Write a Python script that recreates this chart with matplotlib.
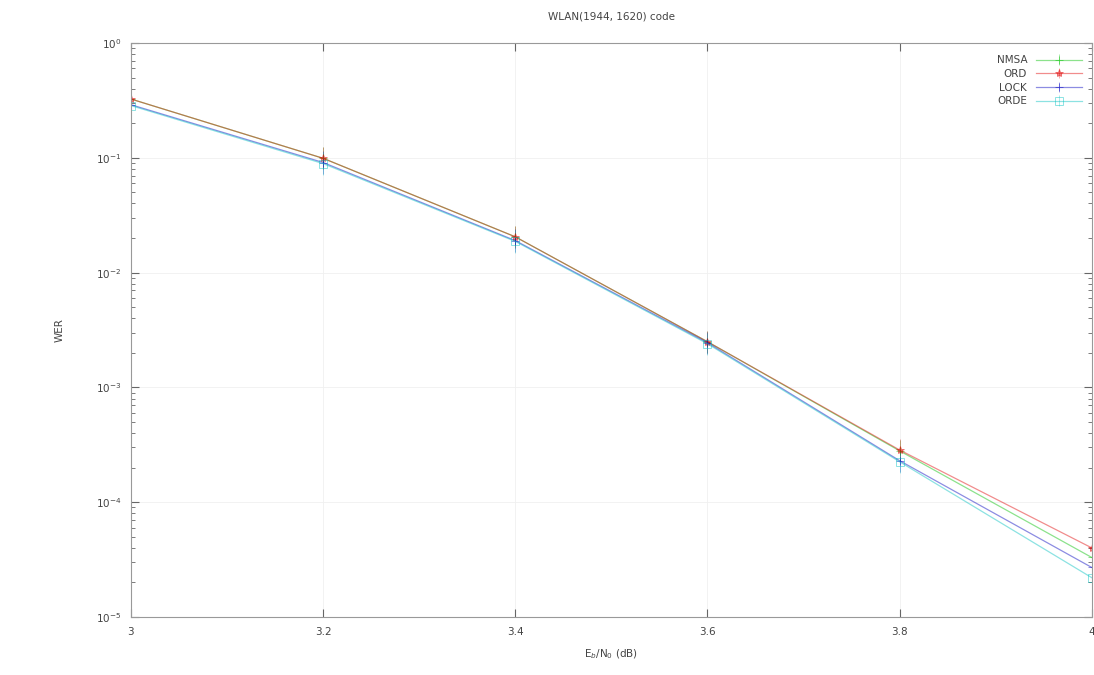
import numpy as np
import matplotlib.pyplot as plt
from matplotlib.ticker import LogLocator, NullFormatter

snr = [3.0, 3.2, 3.4, 3.6, 3.8, 4.0]
nmsa = [0.325, 0.099, 0.0205, 0.0025, 2.8e-4, 3.3e-5]
ord_ = [0.325, 0.099, 0.0205, 0.0025, 2.85e-4, 4.0e-5]
lock = [0.29, 0.091, 0.019, 0.00245, 2.3e-4, 2.7e-5]
orde = [0.285, 0.089, 0.0187, 0.0024, 2.25e-4, 2.2e-5]
names = ["NMSA", "ORD", "LOCK", "ORDE"]
colors = ["#00c000", "#e00000", "#0000c0", "#00c0c0"]
markers = ["+", "*", "+", "s"]

fig = plt.figure(figsize=(10.94, 6.75), dpi=100)
ax = fig.add_axes([0.1197, 0.0859, 0.8783, 0.8504])

for name, y, c, m in zip(names, [nmsa, ord_, lock, orde], colors, markers):
    y = np.array(y)
    ax.errorbar(snr, y, yerr=[y * 0.2, y * 0.25], color=c, marker=m, ms=6,
                mfc="none" if m == "s" else c, lw=0.9, elinewidth=0.5,
                mew=0.7, alpha=0.45, label=name)

ax.set_yscale("log")
ax.set_xlim(3, 4)
ax.set_ylim(1e-5, 1)
ax.set_xticks([3, 3.2, 3.4, 3.6, 3.8, 4])
ax.set_xticklabels(["3", "3.2", "3.4", "3.6", "3.8", "4"])
ax.yaxis.set_major_locator(LogLocator(base=10, numticks=10))
ax.yaxis.set_minor_locator(LogLocator(base=10, subs=np.arange(2, 10), numticks=20))
ax.yaxis.set_minor_formatter(NullFormatter())
ax.tick_params(which="both", direction="in", top=True, right=True,
               labelsize=7.5, colors="#666666", labelcolor="#444444")
ax.tick_params(which="major", length=6, pad=7)
ax.tick_params(which="minor", length=3)
for s in ax.spines.values():
    s.set_color("#999999")
ax.grid(True, which="major", color="#f0f0f0", lw=0.6)

ax.set_title("WLAN(1944, 1620) code", fontsize=7.5, color="#444444", pad=17)
ax.set_xlabel(r"E$_b$/N$_0$ (dB)", fontsize=7.5, color="#444444", labelpad=8)
ax.set_ylabel("WER", fontsize=7.5, color="#444444", labelpad=22)

leg = ax.legend(loc="upper right", markerfirst=False, frameon=False,
                fontsize=7.5, handlelength=4.5, labelspacing=0.35,
                bbox_to_anchor=(1.0, 0.995))
for t in leg.get_texts():
    t.set_color("#444444")

fig.savefig("out.png", dpi=100)
